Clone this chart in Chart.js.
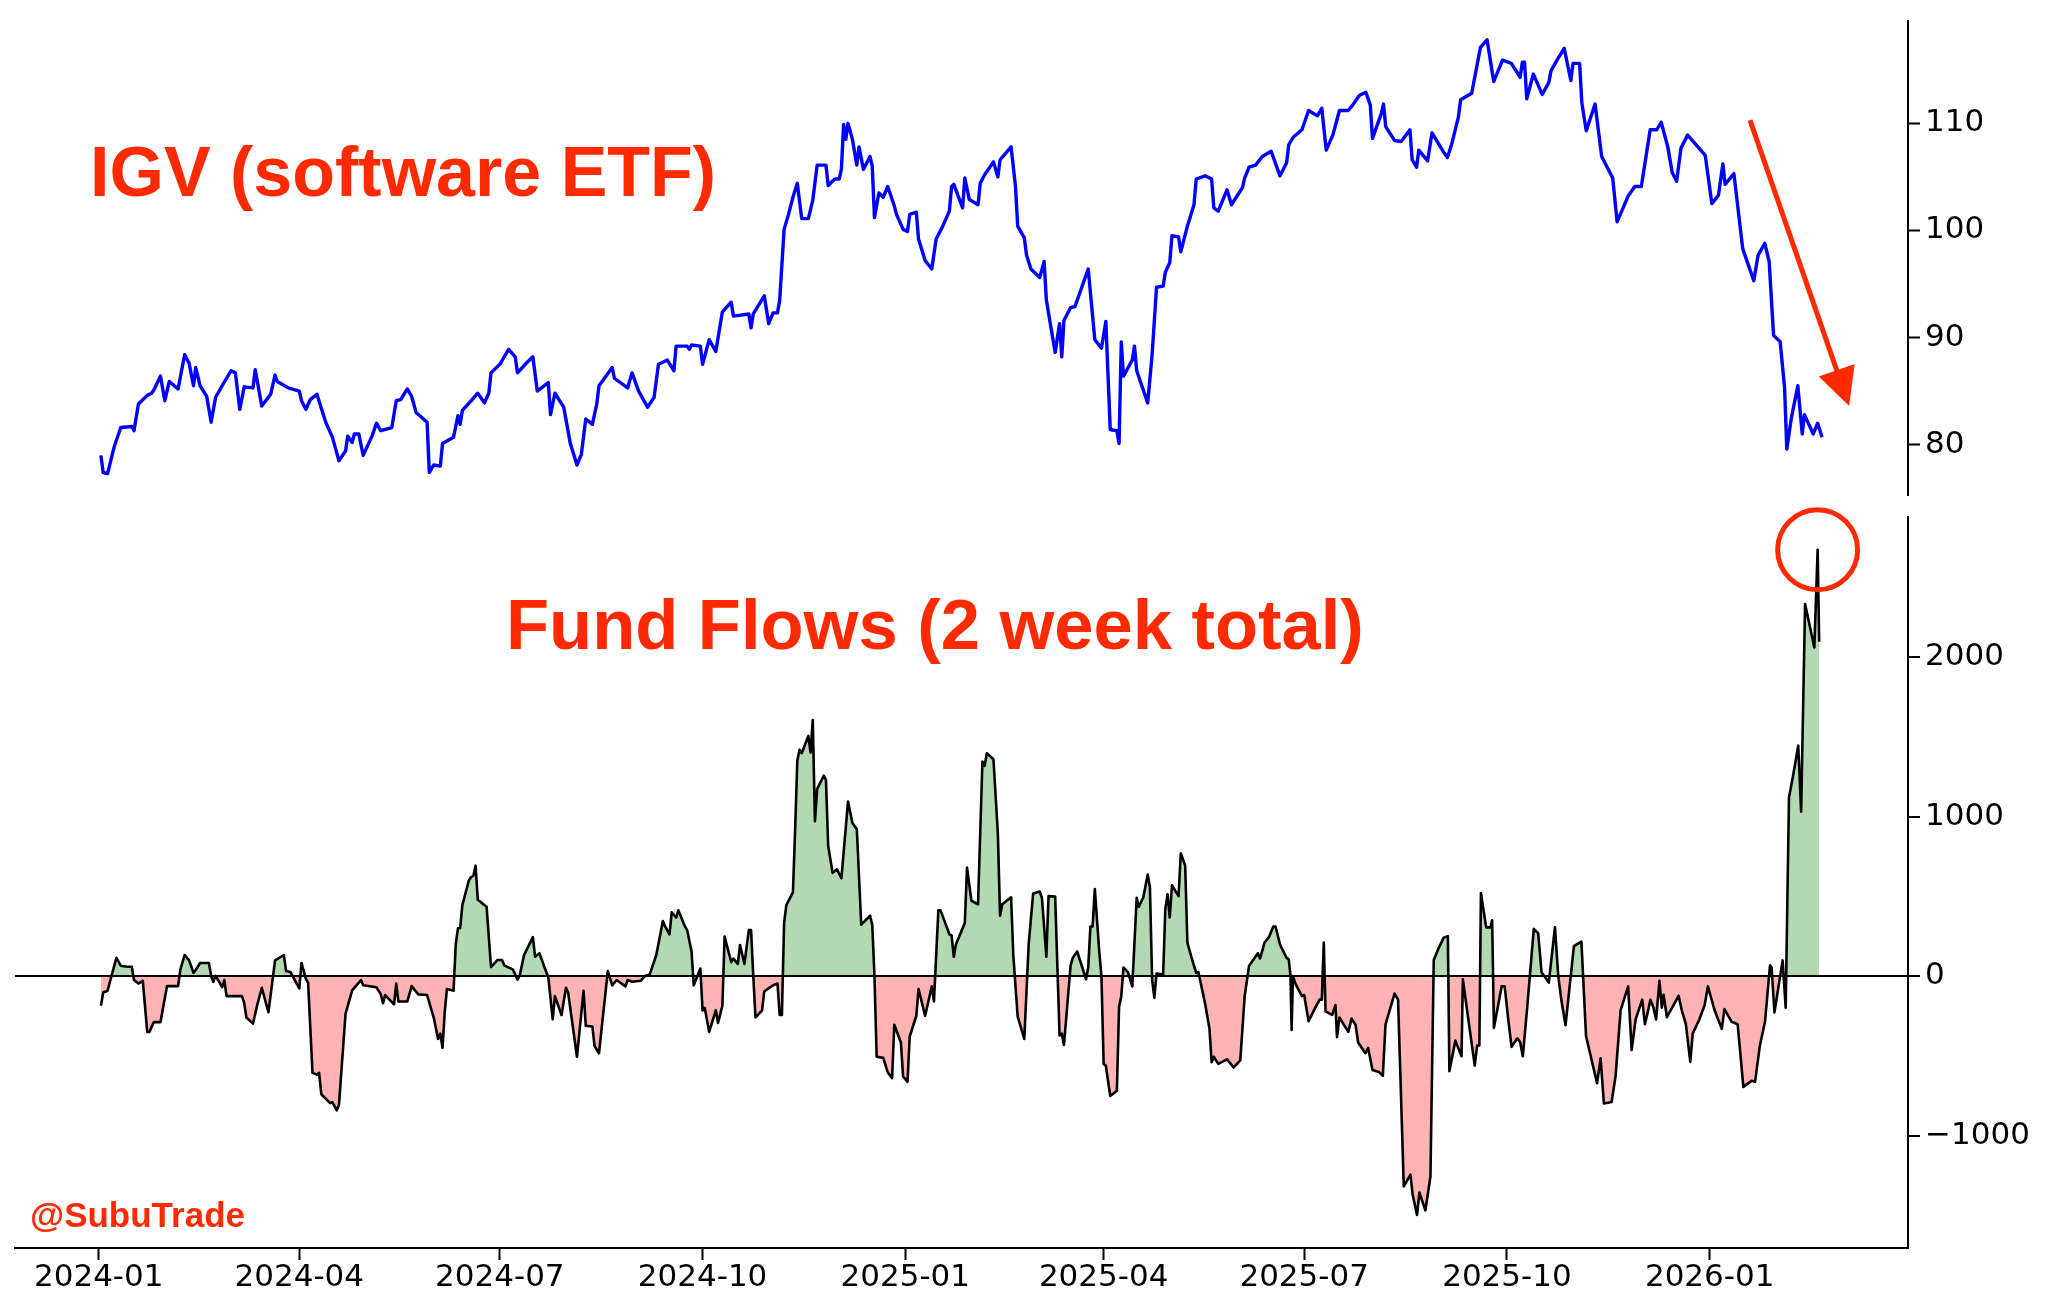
<!DOCTYPE html>
<html><head><meta charset="utf-8">
<script src="https://cdn.jsdelivr.net/npm/chart.js@4.4.1/dist/chart.umd.min.js"></script>
<style>
html,body{margin:0;padding:0;background:#fff;}
#wrap{position:relative;width:2048px;height:1309px;overflow:hidden;background:#fff;}
canvas{position:absolute;left:0;top:0;}
</style></head><body>
<div id="wrap"><canvas id="topc" width="2048" height="1309"></canvas><canvas id="botc" width="2048" height="1309"></canvas></div>
<script>
// x values are days since 2024-01-01
const BASE = Date.UTC(2024, 0, 1);
const xTickLabels = ['2024-01','2024-04','2024-07','2024-10','2025-01','2025-04','2025-07','2025-10','2026-01'];
const igvTicks = [80, 90, 100, 110];
const flowTicks = [-1000, 0, 1000, 2000];
const xRange = [-38, 821];
const igvRange = [75.3, 119.6];
const flowRange = [-1705, 2878];
const titleTop = 'IGV (software ETF)';
const titleBottom = 'Fund Flows (2 week total)';
const credit = '@SubuTrade';

// IGV price [day, value]
const igvSeries = [[1,79.0],[2,77.4],[4,77.3],[7,79.8],[10,81.6],[15,81.7],[16,81.3],[18,83.8],[22,84.6],[24,84.8],[25,85.1],[28,86.4],[30,84.1],[32,85.9],[36,85.2],[39,88.4],[41,87.6],[43,85.5],[44,87.2],[46,85.5],[49,84.5],[51,82.1],[53,84.4],[56,85.5],[60,86.9],[62,86.7],[64,83.3],[66,85.4],[70,85.3],[71,87.0],[74,83.6],[78,84.7],[80,86.5],[81,85.9],[86,85.3],[91,85.0],[92,84.1],[94,83.3],[96,84.2],[99,84.7],[103,82.1],[106,80.7],[109,78.5],[112,79.4],[113,80.8],[115,80.2],[116,81.0],[118,81.0],[120,79.0],[124,80.8],[126,82.0],[128,81.3],[133,81.6],[135,84.1],[137,84.2],[140,85.2],[142,84.5],[144,83.0],[149,82.1],[150,77.4],[152,78.1],[155,78.0],[156,80.1],[161,80.7],[163,82.7],[164,81.9],[165,83.2],[169,84.1],[172,84.8],[175,83.9],[177,84.8],[178,86.7],[182,87.5],[186,88.9],[189,88.2],[190,86.7],[194,87.6],[197,88.2],[199,85.0],[204,85.8],[205,82.8],[207,84.8],[211,83.5],[214,80.1],[217,78.1],[219,79.1],[221,82.4],[224,81.9],[226,83.8],[227,85.5],[233,87.2],[234,86.2],[240,85.3],[242,86.7],[245,85.0],[249,83.5],[252,84.4],[254,87.5],[258,87.9],[261,86.9],[262,89.2],[267,89.2],[268,88.9],[269,89.3],[273,89.2],[274,87.5],[277,89.8],[280,88.7],[283,92.4],[287,93.3],[288,92.0],[295,92.2],[296,90.9],[297,92.2],[302,93.9],[304,91.3],[306,92.3],[308,92.3],[309,93.5],[311,100.1],[313,101.5],[315,103.1],[317,104.4],[319,101.1],[322,101.1],[324,102.8],[326,106.1],[330,106.1],[331,104.2],[334,104.8],[336,104.8],[337,105.7],[338,109.9],[339,108.5],[340,110.0],[342,108.5],[344,106.1],[345,107.8],[347,105.7],[350,106.9],[351,106.0],[352,101.2],[354,103.5],[356,103.1],[358,104.1],[361,102.3],[362,101.5],[365,100.1],[367,99.9],[368,101.5],[371,101.7],[372,99.2],[375,97.2],[378,96.4],[380,99.2],[383,100.4],[386,101.8],[387,104.1],[388,104.3],[392,102.1],[393,104.9],[395,102.9],[399,102.4],[400,104.4],[402,105.2],[406,106.4],[408,105.0],[409,106.6],[414,107.8],[416,104.1],[417,100.4],[420,99.3],[421,97.7],[423,96.4],[427,95.6],[429,97.1],[430,93.5],[434,88.6],[436,91.3],[437,88.2],[438,91.6],[441,92.8],[443,92.9],[449,96.4],[452,89.8],[455,89.0],[457,91.5],[459,81.4],[462,81.3],[463,80.1],[464,89.6],[465,86.4],[469,87.9],[470,89.2],[471,86.9],[476,83.9],[478,88.4],[480,94.7],[483,94.8],[484,96.1],[486,97.0],[487,99.5],[490,99.4],[491,98.0],[494,100.4],[497,102.4],[498,104.8],[502,105.1],[505,104.8],[506,102.1],[508,101.8],[512,103.8],[514,102.4],[519,104.0],[520,104.9],[522,105.9],[525,106.1],[528,106.9],[532,107.4],[536,105.1],[539,106.3],[540,108.0],[542,108.7],[546,109.4],[549,111.2],[553,110.7],[555,111.4],[557,107.5],[560,108.9],[563,111.2],[567,111.2],[569,111.7],[572,112.6],[575,112.9],[577,111.7],[578,108.6],[582,110.9],[583,111.8],[584,109.7],[588,108.4],[591,108.3],[595,109.4],[596,106.6],[598,105.9],[599,107.5],[603,106.5],[605,109.1],[610,107.4],[612,106.8],[614,108.1],[617,110.6],[618,112.2],[623,112.8],[627,117.1],[630,117.8],[633,113.9],[637,115.9],[641,115.6],[645,114.3],[646,115.7],[647,115.7],[648,112.3],[651,114.6],[655,112.7],[658,113.8],[659,114.9],[662,116.0],[665,117.0],[668,114.0],[669,115.6],[672,115.6],[673,111.9],[675,109.3],[679,111.8],[682,106.9],[687,104.9],[689,100.8],[694,103.2],[697,104.1],[700,104.1],[704,109.4],[707,109.4],[709,110.1],[712,107.8],[714,105.4],[716,104.6],[718,107.7],[721,108.9],[724,108.2],[729,107.0],[732,102.5],[735,103.3],[737,106.2],[738,104.3],[742,105.3],[746,98.3],[751,95.3],[753,97.7],[756,98.8],[758,97.1],[760,90.2],[763,89.6],[765,85.3],[766,79.6],[768,82.4],[771,85.5],[773,81.0],[774,82.8],[778,81.0],[780,82.0],[782,80.7]];

// Fund flows, 2-week total [day, value]
const flowSeries = [[1,-186],[2,-103],[4,-92],[8,114],[10,65],[13,58],[15,58],[16,-25],[18,-47],[20,-30],[22,-350],[23,-350],[25,-289],[28,-289],[31,-63],[36,-63],[37,38],[39,132],[41,98],[43,20],[44,38],[46,82],[50,82],[51,2],[52,-36],[53,2],[56,-70],[57,-25],[58,-126],[65,-126],[66,-170],[67,-260],[70,-298],[72,-177],[74,-74],[77,-227],[80,98],[84,132],[85,32],[87,25],[91,-78],[92,82],[94,-18],[95,-41],[97,-607],[99,-618],[100,-607],[101,-741],[105,-797],[106,-791],[108,-842],[109,-809],[112,-235],[115,-90],[119,-25],[120,-58],[126,-70],[128,-115],[129,-170],[130,-119],[134,-177],[135,-47],[136,-160],[140,-160],[142,-63],[145,-115],[149,-119],[152,-260],[154,-394],[155,-361],[156,-450],[157,-226],[158,-81],[161,-92],[162,199],[163,300],[164,300],[165,445],[168,602],[169,620],[170,629],[171,692],[172,479],[174,456],[176,434],[178,56],[181,101],[183,101],[184,67],[188,40],[190,-22],[191,2],[193,132],[195,188],[197,244],[198,121],[200,143],[202,65],[204,-7],[206,-271],[207,-126],[210,-244],[212,-74],[213,-103],[217,-506],[220,-92],[221,-312],[224,-316],[225,-439],[227,-484],[231,31],[233,-58],[235,-25],[239,-65],[240,-25],[242,-36],[246,-29],[248,2],[250,9],[253,132],[256,345],[257,311],[259,261],[260,400],[262,367],[263,412],[266,311],[267,288],[269,154],[270,-58],[273,47],[274,-215],[275,-200],[277,-350],[280,-215],[281,-294],[283,-186],[284,248],[287,87],[288,109],[290,76],[291,195],[293,76],[295,288],[296,288],[297,5],[298,-260],[301,-215],[302,-96],[306,-58],[308,-47],[309,-244],[310,-244],[311,333],[312,445],[315,524],[316,915],[317,1352],[318,1419],[319,1397],[322,1506],[323,1401],[324,1605],[325,971],[326,1173],[329,1256],[330,1229],[331,815],[333,647],[335,669],[337,613],[340,1094],[342,960],[344,920],[346,322],[350,378],[351,322],[352,0],[353,-506],[356,-513],[358,-603],[360,-640],[361,-305],[364,-417],[365,-630],[367,-663],[368,-379],[371,-249],[372,-81],[375,-249],[378,-65],[379,-159],[381,412],[382,412],[386,262],[387,255],[388,121],[389,199],[393,333],[394,680],[396,472],[399,450],[401,1345],[402,1318],[403,1397],[406,1359],[408,893],[409,378],[410,450],[414,494],[415,132],[417,-255],[420,-394],[422,203],[424,517],[427,530],[428,490],[430,121],[431,501],[434,499],[436,-372],[437,-361],[438,-432],[441,65],[442,114],[444,154],[447,24],[448,-20],[449,54],[450,311],[451,311],[452,546],[454,154],[455,0],[456,-551],[457,-562],[459,-752],[462,-719],[463,-193],[464,-126],[465,54],[467,25],[469,-65],[471,490],[472,434],[474,494],[476,636],[477,557],[478,-22],[479,-137],[480,15],[483,9],[484,423],[485,512],[486,367],[487,569],[490,501],[491,770],[493,692],[494,210],[496,110],[498,20],[499,25],[502,-170],[504,-327],[505,-540],[506,-506],[508,-551],[512,-522],[515,-573],[518,-529],[520,-126],[522,65],[526,143],[527,110],[529,210],[531,244],[533,311],[534,311],[536,199],[539,114],[540,105],[540.8,0],[541.3,-338],[541.9,0],[543,-47],[546,-126],[547,-119],[549,-283],[552,-200],[554,-148],[555,-148],[555.9,210],[556.7,-222],[559.7,-244],[561.2,-182],[561.9,-383],[563,-260],[567,-350],[568.5,-267],[570.3,-305],[571.5,-417],[574.8,-484],[576,-450],[578,-589],[581,-602],[582.7,-625],[583.9,-305],[588,-110],[589.6,-148],[592.2,-1319],[595.2,-1245],[596.2,-1368],[598.2,-1498],[599.3,-1357],[602,-1469],[604.3,-1257],[605.8,100],[608,174],[610.3,241],[612.2,250],[612.9,-596],[615.6,-405],[618.4,-503],[619,-20],[620.9,-213],[624.4,-562],[625.5,-435],[626.5,-435],[627.2,521],[629.6,305],[631.5,305],[632.3,350],[633.1,-325],[636.6,-65],[638,-65],[639.6,-272],[641.1,-444],[643.7,-390],[645,-414],[646.2,-503],[648.2,-198],[651.2,296],[653.2,267],[654.7,24],[658,-41],[660.8,305],[662.3,0],[663.8,-160],[665.6,-308],[669.4,187],[672.8,216],[674.9,-376],[679.9,-672],[681.5,-515],[683,-799],[686.5,-790],[688.3,-627],[690.6,-213],[694,-65],[695.6,-464],[697.4,-272],[700.4,-148],[701.6,-302],[702.9,-228],[704.1,-148],[705.5,-198],[706.7,-272],[708.2,-30],[709.3,-198],[710.1,-118],[711.6,-258],[714.6,-183],[716.9,-124],[718.3,-213],[720.2,-302],[722.2,-538],[723.3,-361],[726.3,-272],[728.7,-183],[730.2,-65],[733.2,-213],[736.5,-331],[737.7,-207],[741,-287],[743.7,-302],[746.3,-695],[750,-657],[751.6,-663],[753.8,-435],[756.1,-287],[758.4,68],[759.1,53],[760.4,-228],[764.1,98],[765.5,-198],[767,1119],[769,1267],[771.2,1445],[772.5,1030],[774.3,2333],[778.5,2060],[780,2673],[780.7,2096]];

// annotation anchors (data coordinates)
const arrowFrom = [749.3, 110.3];
const arrowTo = [794.3, 83.6];

const RED = '#ff2a00';
const dayOf = s => (Date.UTC(+s.slice(0,4), +s.slice(5,7) - 1, 1) - BASE) / 86400000;
const labelOf = d => { const t = new Date(BASE + Math.round(d) * 86400000); return t.getUTCFullYear() + '-' + String(t.getUTCMonth() + 1).padStart(2, '0'); };
const fmtNum = v => v < 0 ? '\u2212' + Math.abs(v) : String(v);
const tickFont = {family: 'DejaVu Sans', size: 31, lineHeight: 1};

function yAxis(range, ticks, zeroLine) {
  return {
    type: 'linear', position: 'right', min: range[0], max: range[1],
    afterBuildTicks: s => { s.ticks = ticks.map(v => ({value: v})); },
    afterFit: s => { s.width = 140; },
    grid: zeroLine ? {
      drawOnChartArea: true, z: 1,
      color: c => (c.tick && c.tick.value === 0) ? '#000' : 'rgba(0,0,0,0)',
      lineWidth: 2, drawTicks: true, tickLength: 12, tickWidth: 2, tickColor: '#000'
    } : {drawOnChartArea: false, drawTicks: true, tickLength: 12, tickWidth: 2, tickColor: '#000'},
    border: {display: true, color: '#000', width: 2, z: 2},
    ticks: {color: '#000', font: tickFont, padding: 5, z: 2, callback: v => fmtNum(v)}
  };
}

const textPluginTop = {
  id: 'textTop',
  afterDraw(chart) {
    const ctx = chart.ctx, xs = chart.scales.x, ys = chart.scales.y;
    ctx.save();
    ctx.fillStyle = RED;
    ctx.font = 'bold 70px "Liberation Sans", Arial, sans-serif';
    ctx.textBaseline = 'alphabetic';
    ctx.fillText(titleTop, 90, 196);
    // arrow
    const x0 = xs.getPixelForValue(arrowFrom[0]), y0 = ys.getPixelForValue(arrowFrom[1]);
    const x1 = xs.getPixelForValue(arrowTo[0]), y1 = ys.getPixelForValue(arrowTo[1]);
    const dx = x1 - x0, dy = y1 - y0, L = Math.hypot(dx, dy), ux = dx / L, uy = dy / L;
    const hl = 38, hw = 19;
    const bx = x1 - ux * hl, by = y1 - uy * hl;
    ctx.strokeStyle = RED; ctx.lineWidth = 5; ctx.lineCap = 'butt';
    ctx.beginPath(); ctx.moveTo(x0, y0); ctx.lineTo(bx + ux * 2, by + uy * 2); ctx.stroke();
    ctx.beginPath();
    ctx.moveTo(x1, y1);
    ctx.lineTo(bx - uy * hw, by + ux * hw);
    ctx.lineTo(bx + uy * hw, by - ux * hw);
    ctx.closePath(); ctx.fill();
    ctx.restore();
  }
};

const textPluginBot = {
  id: 'textBot',
  afterDraw(chart) {
    const ctx = chart.ctx, xs = chart.scales.x, ys = chart.scales.y;
    ctx.save();
    ctx.fillStyle = RED;
    ctx.font = 'bold 70.5px "Liberation Sans", Arial, sans-serif';
    ctx.textBaseline = 'alphabetic';
    ctx.fillText(titleBottom, 506, 649);
    ctx.font = 'bold 35px "Liberation Sans", Arial, sans-serif';
    ctx.fillText(credit, 30, 1227);
    // circle around the peak value
    let pk = flowSeries[0];
    flowSeries.forEach(p => { if (p[1] > pk[1]) pk = p; });
    const cx = xs.getPixelForValue(pk[0]), cy = ys.getPixelForValue(pk[1]);
    ctx.strokeStyle = RED; ctx.lineWidth = 5;
    ctx.beginPath(); ctx.arc(cx, cy, 40, 0, Math.PI * 2); ctx.stroke();
    ctx.restore();
  }
};

const common = {responsive: false, animation: false, devicePixelRatio: 1,
  plugins: {legend: {display: false}, tooltip: {enabled: false}, title: {display: false}}};

new Chart(document.getElementById('topc'), {
  type: 'line',
  data: {datasets: [{data: igvSeries.map(p => ({x: p[0], y: p[1]})), borderColor: '#0000ff', borderWidth: 3.4,
    pointRadius: 0, tension: 0, fill: false, borderJoinStyle: 'round'}]},
  options: Object.assign({}, common, {
    layout: {padding: {left: 15, top: 16, right: 0, bottom: 814}},
    scales: {
      x: {type: 'linear', min: xRange[0], max: xRange[1], display: false},
      y: yAxis(igvRange, igvTicks, false)
    }
  }),
  plugins: [textPluginTop]
});

new Chart(document.getElementById('botc'), {
  type: 'line',
  data: {datasets: [{data: flowSeries.map(p => ({x: p[0], y: p[1]})), borderColor: '#000', borderWidth: 2.6,
    pointRadius: 0, tension: 0, borderJoinStyle: 'round',
    fill: {target: 'origin', above: '#b3d9b3', below: '#ffb3b3'}}]},
  options: Object.assign({}, common, {
    layout: {padding: {left: 15, top: 517, right: 0, bottom: 0}},
    scales: {
      x: {type: 'linear', min: xRange[0], max: xRange[1], position: 'bottom',
        afterBuildTicks: s => { s.ticks = xTickLabels.map(l => ({value: dayOf(l)})); },
        afterFit: s => { s.height = 61; },
        grid: {drawOnChartArea: false, drawTicks: true, tickLength: 12, tickWidth: 2, tickColor: '#000'},
        border: {display: true, color: '#000', width: 2},
        ticks: {color: '#000', font: tickFont, padding: 2, maxRotation: 0, autoSkip: false, callback: v => labelOf(v)}
      },
      y: yAxis(flowRange, flowTicks, true)
    }
  }),
  plugins: [textPluginBot]
});
</script>
</body></html>
